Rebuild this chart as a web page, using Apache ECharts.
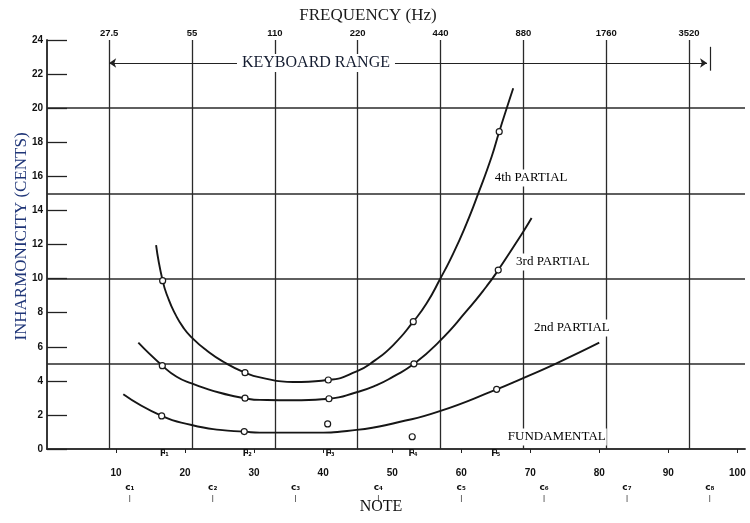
<!DOCTYPE html>
<html><head><meta charset="utf-8">
<script src="https://cdn.jsdelivr.net/npm/echarts@6/dist/echarts.min.js"></script>
<style>html,body{margin:0;padding:0;background:#fff}#c{width:750px;height:523px}</style>
</head><body><div id="c"></div>
<script>
// ---- axis tick values / labels ----
const noteTicks = [10, 20, 30, 40, 50, 60, 70, 80, 90, 100];
const freqNotes = [9, 21, 33, 45, 57, 69, 81, 93];
const freqLabels = ['27.5', '55', '110', '220', '440', '880', '1760', '3520'];
const fNotes = [17, 29, 41, 53, 65];
const fLabels = ['F₁', 'F₂', 'F₃', 'F₄', 'F₅'];
const cNotes = [12, 24, 36, 48, 60, 72, 84, 96];
const cLabels = ['c₁', 'c₂', 'c₃', 'c₄', 'c₅', 'c₆', 'c₇', 'c₈'];
const gridValues = [5, 10, 15, 20];

// ---- curves (note number, inharmonicity in cents) ----
const note4 = [15.8, 16.75, 17.6, 18.6, 19.7, 20.95, 23.13, 25.54, 28.68, 30.85, 35.67, 40.74, 44.85, 47.5, 50.15, 53.05, 54.99, 56.92, 58.85, 60.78, 62.47, 64.4, 65.5, 67.53];
const val4  = [11.97, 9.88, 8.8, 7.9, 7.15, 6.55, 5.78, 5.12, 4.48, 4.2, 3.93, 4.05, 4.55, 5.2, 6.1, 7.47, 8.55, 9.96, 11.48, 13.24, 15.0, 17.15, 18.62, 21.17];
const note3 = [13.23, 16.7, 18.78, 20.95, 25.05, 28.68, 30.85, 35.67, 40.84, 44.85, 47.75, 50.15, 53.15, 56.8, 60.78, 63.68, 65.36, 68.98, 70.19];
const val3  = [6.24, 4.89, 4.24, 3.85, 3.30, 2.98, 2.88, 2.86, 2.95, 3.33, 3.75, 4.25, 5.0, 6.3, 8.1, 9.55, 10.5, 12.75, 13.55];
const note2 = [11.05, 16.61, 20.95, 25.05, 28.57, 30.85, 38.09, 44.85, 51.16, 56.67, 65.13, 68.89, 73.8, 79.99];
const val2  = [3.21, 1.94, 1.41, 1.12, 1.02, 0.96, 0.96, 1.12, 1.60, 2.19, 3.5, 4.15, 5.03, 6.24];

// ---- measured points (circles) ----
const pointNotes = [16.75, 28.68, 40.74, 53.05, 65.5, 16.7, 28.68, 40.84, 53.15, 65.36, 16.61, 28.57, 65.13, 40.65, 52.9];
const pointVals  = [9.88, 4.48, 4.05, 7.47, 18.62, 4.89, 2.98, 2.95, 5.0, 10.5, 1.94, 1.02, 3.5, 1.47, 0.72];

// ---- annotations ----
const curveLabels = ['4th PARTIAL', '3rd PARTIAL', '2nd PARTIAL', 'FUNDAMENTAL'];
const curveLabelPos = [[64.7, 15.9], [67.8, 10.97], [70.4, 7.1], [66.6, 0.7]];
const rangeLabel = 'KEYBOARD RANGE';
const rangeLabelPos = [38.96, 22.65];
const rangeStart = 9, rangeEnd = 95.6, rangeBar = 96.1, rangeLevel = 22.65;

const X_MAX = 101.1, Y_MAX = 24;
const lineColor = '#2a2a2a';
const serif = 'Liberation Serif';
const sans = 'Liberation Sans';

const chart = echarts.init(document.getElementById('c'), null, {renderer: 'canvas'});
const pair = (a, b) => a.map((v, i) => [v, b[i]]);
const curveStyle = {color: '#161616', width: 1.9};

chart.setOption({
  animation: false,
  backgroundColor: '#fff',
  grid: {left: 47, right: 5, top: 40, bottom: 74, containLabel: false},
  xAxis: [
    { // NOTE numbers
      type: 'value', position: 'bottom', min: 0, max: X_MAX, offset: 17,
      name: 'NOTE', nameLocation: 'middle', nameGap: 33, nameMoveOverlap: false,
      nameTextStyle: {fontFamily: serif, fontSize: 16, color: '#111', padding: [0, 30, 0, 0]},
      axisLine: {show: false},
      axisTick: {show: true, customValues: noteTicks, length: 4, lineStyle: {color: '#222', width: 1}},
      axisLabel: {customValues: noteTicks, margin: 2, fontFamily: sans, fontWeight: 'bold', fontSize: 10, color: '#111'},
      splitLine: {show: false}
    },
    { // frequency (top)
      type: 'value', position: 'top', min: 0, max: X_MAX,
      name: 'FREQUENCY (Hz)', nameLocation: 'middle', nameGap: 16, nameMoveOverlap: false,
      nameTextStyle: {fontFamily: serif, fontSize: 17, color: '#1a1a1a', padding: [0, 56, 0, 0]},
      axisLine: {show: true, lineStyle: {color: lineColor, width: 1.5}},
      axisTick: {show: false, customValues: freqNotes},
      axisLabel: {customValues: freqNotes, margin: 2, fontFamily: sans, fontWeight: 'bold', fontSize: 9.5, color: '#111',
        formatter: v => freqLabels[freqNotes.indexOf(v)]},
      splitLine: {show: true, lineStyle: {color: lineColor, width: 1.3}}
    },
    { // F marks on the axis line
      type: 'value', position: 'bottom', min: 0, max: X_MAX, offset: 0,
      axisLine: {show: true, lineStyle: {color: lineColor, width: 1.5}},
      axisTick: {show: true, customValues: fNotes, length: 5, lineStyle: {color: '#222', width: 1}},
      axisLabel: {customValues: fNotes, margin: 1, fontFamily: 'DejaVu Sans', fontWeight: 'bold', fontSize: 8, color: '#111',
        formatter: v => fLabels[fNotes.indexOf(v)]},
      splitLine: {show: false}
    },
    { // c marks
      type: 'value', position: 'bottom', min: 0, max: X_MAX, offset: 33,
      axisLine: {show: false}, axisTick: {show: false},
      axisLabel: {customValues: cNotes, margin: 0, color: '#111',
        formatter: v => '{c|' + cLabels[cNotes.indexOf(v)] + '}\n{t||}',
        rich: {c: {fontFamily: 'DejaVu Sans', fontWeight: 'bold', fontSize: 9, lineHeight: 11},
               t: {fontFamily: sans, fontSize: 8, lineHeight: 9}}},
      splitLine: {show: false}
    }
  ],
  yAxis: [
    {
      type: 'value', position: 'left', min: 0, max: Y_MAX, interval: 2,
      name: 'INHARMONICITY (CENTS)', nameLocation: 'middle', nameGap: 17, nameMoveOverlap: false,
      nameTextStyle: {fontFamily: serif, fontSize: 17, color: '#1f3577', padding: [0, 0, 0, 16]},
      axisLine: {show: true, lineStyle: {color: lineColor, width: 1.5}},
      axisTick: {show: true, inside: true, length: 20, lineStyle: {color: '#222', width: 1.3}},
      axisLabel: {margin: 4, fontFamily: sans, fontWeight: 'bold', fontSize: 10, color: '#111'},
      splitLine: {show: false}
    },
    {
      type: 'value', position: 'right', min: 0, max: Y_MAX,
      axisLine: {show: true, lineStyle: {color: lineColor, width: 1.5}},
      axisTick: {show: false, customValues: gridValues},
      axisLabel: {show: false, customValues: gridValues},
      splitLine: {show: true, lineStyle: {color: lineColor, width: 1.5}}
    }
  ],
  series: [
    {type: 'line', data: pair(note4, val4), smooth: 0.55, showSymbol: false, lineStyle: curveStyle, z: 3, silent: true},
    {type: 'line', data: pair(note3, val3), smooth: 0.55, showSymbol: false, lineStyle: curveStyle, z: 3, silent: true},
    {type: 'line', data: pair(note2, val2), smooth: 0.55, showSymbol: false, lineStyle: curveStyle, z: 3, silent: true},
    {type: 'scatter', data: pair(pointNotes, pointVals), symbol: 'circle', symbolSize: 6,
      itemStyle: {color: '#fff', borderColor: '#1a1a1a', borderWidth: 1.2, opacity: 1}, z: 4, silent: true},
    {
      type: 'scatter', symbolSize: 0, z: 6, silent: true,
      itemStyle: {opacity: 1},
      data: curveLabels.map((t, i) => ({value: curveLabelPos[i], name: t}))
        .concat([{value: rangeLabelPos, name: rangeLabel, label: {position: 'inside', fontSize: 16, color: '#141c30', padding: [1, 5]}}]),
      label: {show: true, position: 'right', distance: 0, formatter: p => p.name, opacity: 1,
        fontFamily: serif, fontSize: 13, color: '#000', backgroundColor: '#fff', padding: [2, 1]},
      markLine: {
        silent: true, symbol: ['none', 'none'], symbolSize: 7,
        lineStyle: {color: '#222', width: 1.2, type: 'solid', opacity: 1}, label: {show: false},
        data: [
          [{coord: [rangeStart, rangeLevel], symbol: 'arrow'}, {coord: [rangeEnd, rangeLevel], symbol: 'arrow'}],
          [{coord: [rangeBar, 23.6], symbol: 'none'}, {coord: [rangeBar, 22.2], symbol: 'none'}]
        ]
      }
    }
  ]
});
</script>
</body></html>
